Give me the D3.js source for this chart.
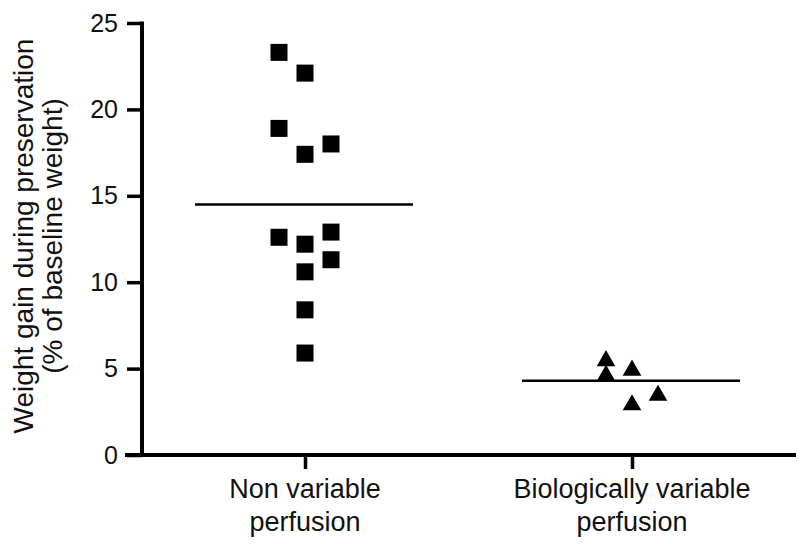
<!DOCTYPE html>
<html><head><meta charset="utf-8">
<script src="https://cdn.jsdelivr.net/npm/d3@7"></script>
<style>body{margin:0;background:#fff}svg{display:block}text{font-family:"Liberation Sans",Arial,sans-serif;fill:#111}</style>
</head><body><svg id="c" width="800" height="544"></svg>
<script>
const categories = ["Non variable|perfusion", "Biologically variable|perfusion"];
const nonVariable = [23.3, 22.1, 18.9, 17.4, 18.0, 12.6, 12.2, 12.9, 11.3, 10.6, 8.4, 5.9];
const nonVariableCol = [-1, 0, -1, 0, 1, -1, 0, 1, 1, 0, 0, 0];
const bioVariable = [5.45, 4.6, 4.9, 2.9, 3.45];
const bioVariableCol = [-1, -1, 0, 0, 1];
const means = [14.5, 4.3];
const yTicks = [0, 5, 10, 15, 20, 25];
const yTitle = ["Weight gain during preservation", "(% of baseline weight)"];

const svg = d3.select("#c");
const y = d3.scaleLinear().domain([0, 25]).range([455, 23]);
const x = d3.scalePoint().domain(categories).range([305, 632]);
const jit = 26;

// y axis
const ya = svg.append("g").attr("transform", "translate(142,0)")
  .call(d3.axisLeft(y).tickValues(yTicks).tickSize(15).tickPadding(9).tickSizeOuter(0));
ya.select(".domain").remove();
ya.selectAll(".tick line").attr("stroke", "#000").attr("stroke-width", 3.5);
ya.selectAll(".tick text").attr("font-size", 25).attr("font-family", "Liberation Sans, Arial, sans-serif").attr("fill", "#222");
svg.append("line").attr("x1", 142).attr("x2", 142).attr("y1", y(25) - 1.5).attr("y2", y(0) + 2)
  .attr("stroke", "#000").attr("stroke-width", 4);

// x axis
const xa = svg.append("g").attr("transform", "translate(0,455)")
  .call(d3.axisBottom(x).tickSize(14).tickFormat(""));
xa.select(".domain").remove();
xa.selectAll(".tick line").attr("stroke", "#000").attr("stroke-width", 3.5);
svg.append("line").attr("x1", 125).attr("x2", 796).attr("y1", 455).attr("y2", 455)
  .attr("stroke", "#000").attr("stroke-width", 4);
categories.forEach(c => {
  const lines = c.split("|");
  const t = svg.append("text").attr("text-anchor", "middle").attr("font-size", 27).attr("fill", "#222")
    .attr("transform", `translate(${x(c)},0)`);
  lines.forEach((l, i) => t.append("tspan").attr("x", 0).attr("y", 498 + i * 33).text(l));
});

// y title
const yt = svg.append("text").attr("text-anchor", "middle").attr("font-size", 28).attr("fill", "#222")
  .attr("transform", "translate(0,236) rotate(-90)");
yTitle.forEach((l, i) => yt.append("tspan").attr("x", 0).attr("y", 33 + i * 29).text(l));

// squares
const sq = 17;
svg.append("g").selectAll("rect").data(nonVariable).join("rect")
  .attr("x", (d, i) => x(categories[0]) + nonVariableCol[i] * jit - sq / 2)
  .attr("y", d => y(d) - sq / 2)
  .attr("width", sq).attr("height", sq).attr("fill", "#000");

// triangles
const tri = d3.symbol().type(d3.symbolTriangle).size(150);
svg.append("g").selectAll("path").data(bioVariable).join("path")
  .attr("d", tri)
  .attr("transform", (d, i) => `translate(${x(categories[1]) + bioVariableCol[i] * jit},${y(d)})`)
  .attr("fill", "#000");

// mean lines
svg.append("g").selectAll("line").data(means).join("line")
  .attr("x1", (d, i) => x(categories[i]) - 110)
  .attr("x2", (d, i) => x(categories[i]) + 108)
  .attr("y1", d => y(d)).attr("y2", d => y(d))
  .attr("stroke", "#000").attr("stroke-width", 2.5);
</script></body></html>
